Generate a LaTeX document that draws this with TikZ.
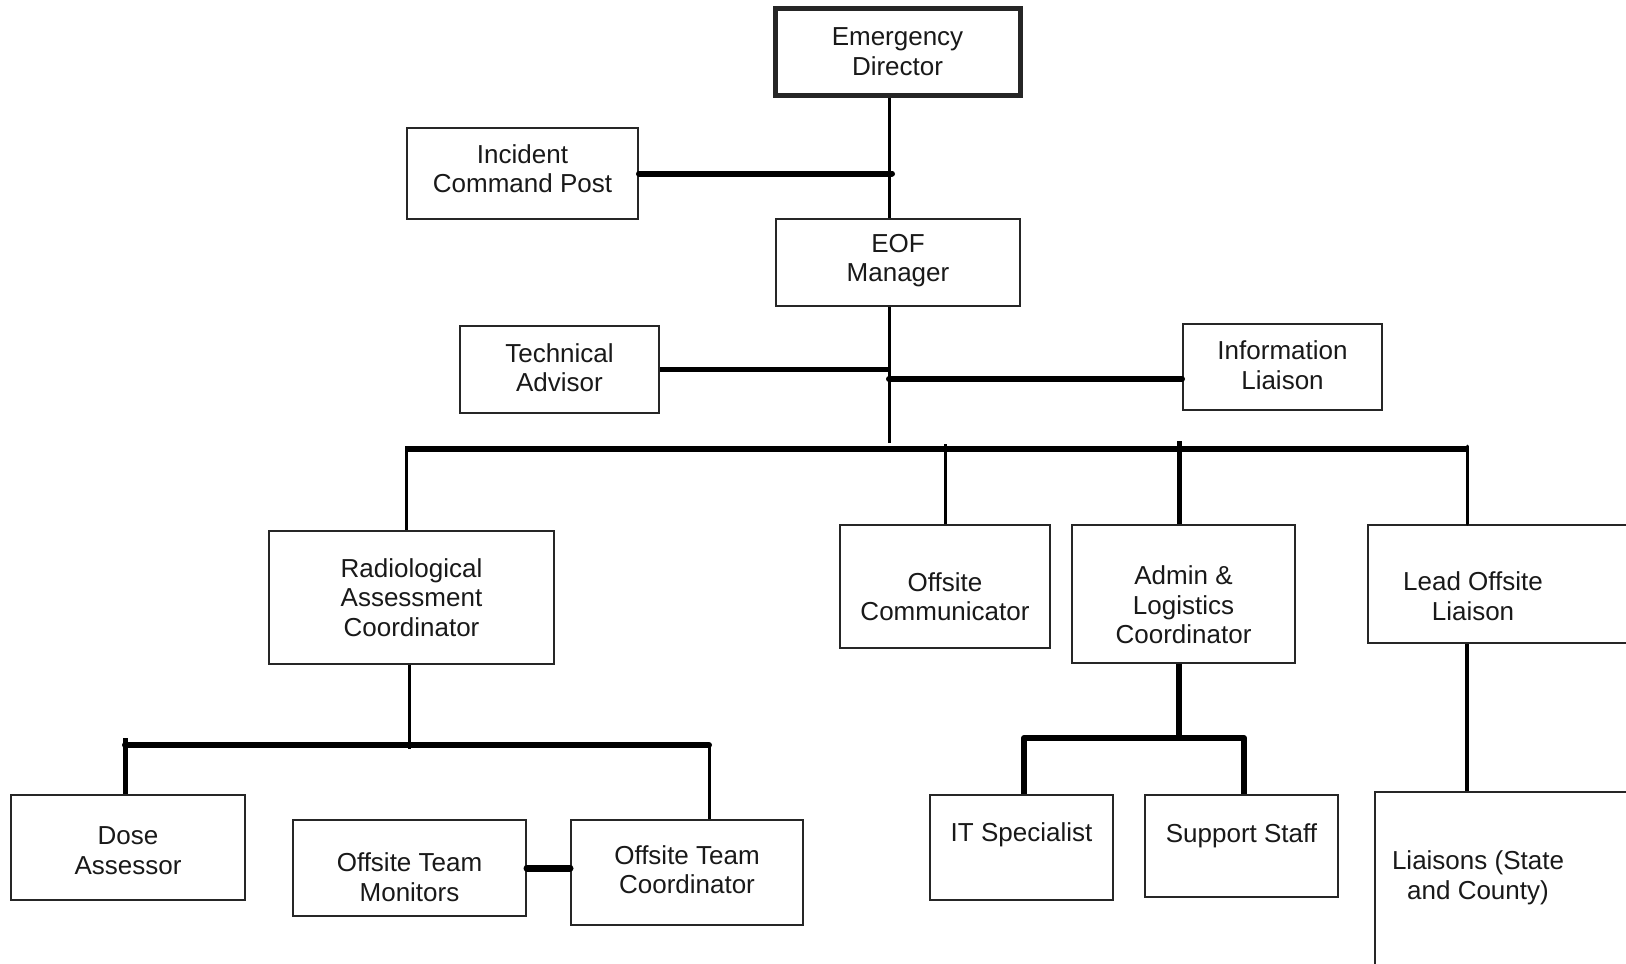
\documentclass[tikz,border=0pt]{standalone}
\usepackage{fontspec}
\setmainfont{Liberation Sans}
\begin{document}
\begin{tikzpicture}[x=1pt,y=-1pt,
  bx/.style={draw=black!85, line width=2pt, fill=white, inner sep=0pt},
  txt/.style={font=\fontsize{26}{29.5}\selectfont, align=center, text=black!90, inner sep=0pt},
  ln/.style={line width=#1, black}
]
\useasboundingbox (0,0) rectangle (1626,964);

% boxes
\node[bx, line width=5pt, minimum width=245pt, minimum height=87pt,
  label={[txt]center:Emergency\\Director}] (ed) at (897.5,51.5) {};
\node[bx, minimum width=231pt, minimum height=91pt,
  label={[txt,yshift=5]center:Incident\\Command Post}] (icp) at (522.5,173.5) {};
\node[bx, minimum width=244pt, minimum height=87pt,
  label={[txt,yshift=2]center:EOF\\Manager}] (eof) at (898,262.5) {};
\node[bx, minimum width=199pt, minimum height=87pt,
  label={[txt,yshift=2]center:Technical\\Advisor}] (ta) at (559.5,369.5) {};
\node[bx, minimum width=199pt, minimum height=86pt,
  label={[txt,yshift=2]center:Information\\Liaison}] (il) at (1282.5,367) {};
\node[bx, minimum width=285pt, minimum height=133pt,
  label={[txt]center:Radiological\\Assessment\\Coordinator}] (rac) at (411.5,597.5) {};
\node[bx, minimum width=210pt, minimum height=123pt,
  label={[txt,yshift=-10]center:Offsite\\Communicator}] (oc) at (945,586.5) {};
\node[bx, minimum width=223pt, minimum height=138pt,
  label={[txt,yshift=-11]center:Admin \&\\Logistics\\Coordinator}] (alc) at (1183.5,594) {};
\node[bx, minimum width=272pt, minimum height=118pt,
  label={[txt,xshift=-31,yshift=-12]center:Lead Offsite\\Liaison}] (lol) at (1504,584) {};
\node[bx, minimum width=234pt, minimum height=105pt,
  label={[txt,yshift=-3]center:Dose\\Assessor}] (da) at (128,847.5) {};
\node[bx, minimum width=233pt, minimum height=96pt,
  label={[txt,yshift=-9]center:Offsite Team\\Monitors}] (otm) at (409.5,868) {};
\node[bx, minimum width=232pt, minimum height=105pt,
  label={[txt,yshift=3]center:Offsite Team\\Coordinator}] (otc) at (687,872.5) {};
\node[bx, minimum width=183pt, minimum height=105pt,
  label={[txt,yshift=13]center:IT Specialist}] (it) at (1021.5,847.5) {};
\node[bx, minimum width=193pt, minimum height=102pt,
  label={[txt,yshift=10]center:Support Staff}] (ss) at (1241.5,846) {};
\node[bx, minimum width=265pt, minimum height=208pt,
  label={[txt,xshift=-29.5,yshift=18]center:Liaisons (State\\and County)}] (lsc) at (1507.5,896) {};

% connectors
\coordinate (tk) at (889,443);
\draw[ln=3pt] (ed.south -| tk) -- (eof.north -| tk);
\draw[ln=3pt] (eof.south -| tk) -- (tk);
\draw[ln=6pt, line cap=round] (icp.east) -- ([xshift=3]icp.east -| tk);
\draw[ln=5pt] (ta.east) -- (ta.east -| tk);
\coordinate (ilj) at (889,379);
\draw[ln=6pt, line cap=round] (ilj) -- (ilj -| il.west);

\coordinate (busL) at (406,449);
\coordinate (busR) at (1467,449);
\draw[ln=6pt] (busL) -- (busR);
\draw[ln=3pt] ([yshift=3]busL) -- (busL |- rac.north);
\draw[ln=3pt] (oc.north) -- ([yshift=5]oc.north |- busL);
\coordinate (alx) at (1179,441);
\draw[ln=5pt] (alx) -- (alx |- alc.north);
\draw[ln=3pt, line cap=round] ([yshift=3]busR) -- (busR |- lol.north);
\draw[ln=4pt] (lol.south -| busR) -- (lsc.north -| busR);

\coordinate (rj) at (409,745);
\draw[ln=3pt] (rac.south -| rj) -- ([yshift=-4]rj);
\coordinate (rbL) at (125,745);
\coordinate (rbR) at (709,745);
\draw[ln=6pt, line cap=round] (rbL) -- (rbR);
\draw[ln=5pt] ([yshift=7]rbL) -- (rbL |- da.north);
\draw[ln=3pt] (rbR) -- (rbR |- otc.north);
\draw[ln=7pt, line cap=round] (otm.east) -- (otm.east -| otc.west);

\coordinate (aj) at (1179,738);
\coordinate (aL) at (1024,738);
\coordinate (aR) at (1244,738);
\draw[ln=6pt] (alc.south -| aj) -- (aj);
\draw[ln=6pt, line join=round] (aL |- it.north) -- (aL) -- (aR) -- (aR |- ss.north);
\end{tikzpicture}
\end{document}
